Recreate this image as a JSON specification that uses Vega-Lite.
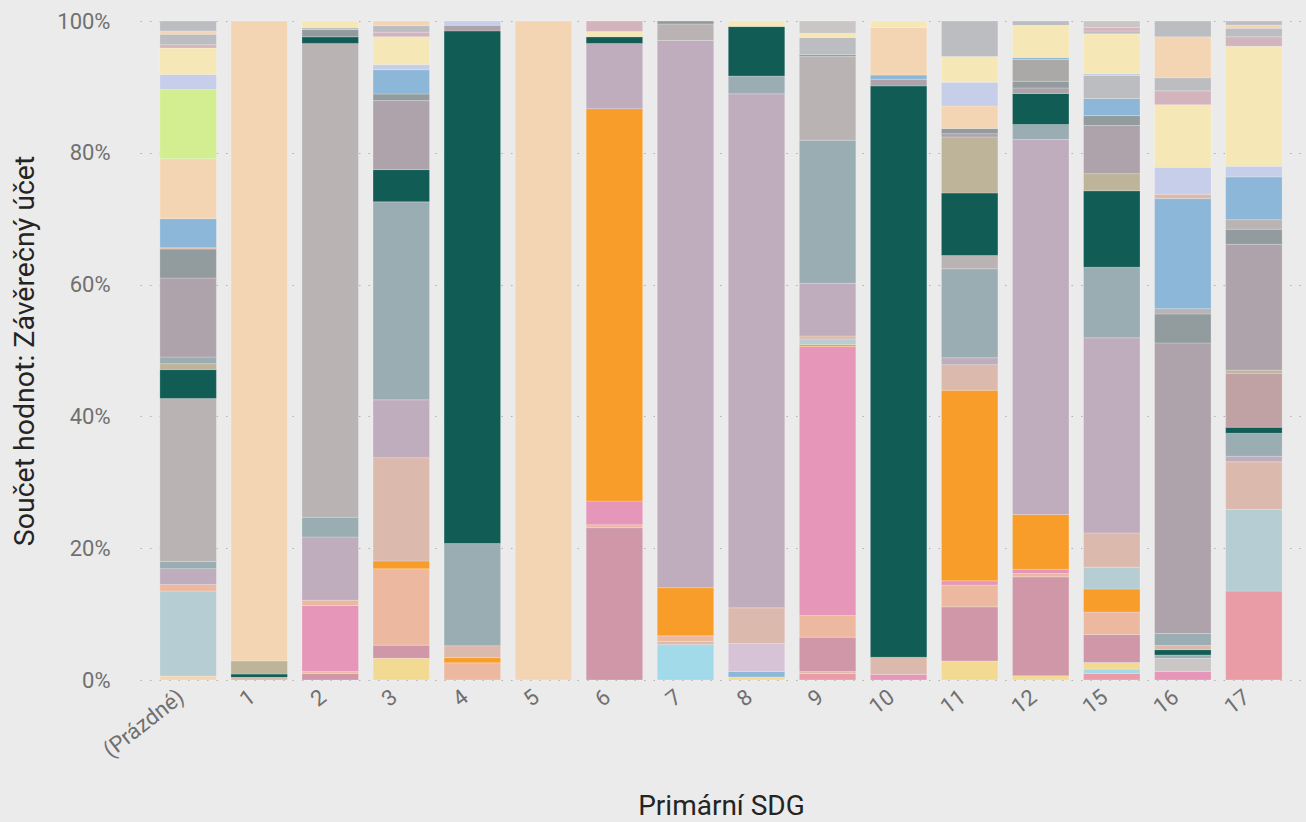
{
  "$schema": "https://vega.github.io/schema/vega-lite/v6.json",
  "autosize": "none",
  "width": 1162,
  "height": 659,
  "padding": {"left": 140, "top": 21, "right": 4, "bottom": 142},
  "background": "#EBEBEB",
  "config": {
    "view": {"stroke": null},
    "font": "Roboto",
    "axis": {"labelFont": "Roboto", "titleFont": "Roboto"}
  },
  "data": {
    "values": [
      {"sdg":"(Prázdné)","k":1,"s":"K","v":0.6},
      {"sdg":"(Prázdné)","k":2,"s":"A","v":12.9},
      {"sdg":"(Prázdné)","k":3,"s":"B","v":1.0},
      {"sdg":"(Prázdné)","k":4,"s":"H","v":2.4},
      {"sdg":"(Prázdné)","k":5,"s":"G","v":1.1},
      {"sdg":"(Prázdné)","k":6,"s":"I","v":24.7},
      {"sdg":"(Prázdné)","k":7,"s":"F","v":4.4},
      {"sdg":"(Prázdné)","k":8,"s":"R","v":0.9},
      {"sdg":"(Prázdné)","k":9,"s":"G","v":1.0},
      {"sdg":"(Prázdné)","k":10,"s":"P","v":12.0},
      {"sdg":"(Prázdné)","k":11,"s":"O","v":4.4},
      {"sdg":"(Prázdné)","k":12,"s":"J","v":0.2},
      {"sdg":"(Prázdné)","k":13,"s":"N","v":4.4},
      {"sdg":"(Prázdné)","k":14,"s":"K","v":9.1},
      {"sdg":"(Prázdné)","k":15,"s":"Q","v":10.5},
      {"sdg":"(Prázdné)","k":16,"s":"M","v":2.3},
      {"sdg":"(Prázdné)","k":17,"s":"L","v":4.0},
      {"sdg":"(Prázdné)","k":18,"s":"Z","v":0.5},
      {"sdg":"(Prázdné)","k":19,"s":"X","v":1.6},
      {"sdg":"(Prázdné)","k":20,"s":"K","v":0.5},
      {"sdg":"(Prázdné)","k":21,"s":"X","v":1.5},

      {"sdg":"1","k":1,"s":"J","v":0.4},
      {"sdg":"1","k":2,"s":"F","v":0.5},
      {"sdg":"1","k":3,"s":"R","v":2.0},
      {"sdg":"1","k":4,"s":"K","v":97.1},

      {"sdg":"2","k":1,"s":"C","v":1.0},
      {"sdg":"2","k":2,"s":"B","v":0.3},
      {"sdg":"2","k":3,"s":"D","v":10.0},
      {"sdg":"2","k":4,"s":"B","v":0.8},
      {"sdg":"2","k":5,"s":"H","v":9.6},
      {"sdg":"2","k":6,"s":"G","v":3.0},
      {"sdg":"2","k":7,"s":"I","v":71.9},
      {"sdg":"2","k":8,"s":"F","v":1.0},
      {"sdg":"2","k":9,"s":"O","v":1.1},
      {"sdg":"2","k":10,"s":"X","v":0.3},
      {"sdg":"2","k":11,"s":"L","v":1.0},

      {"sdg":"3","k":1,"s":"S","v":3.3},
      {"sdg":"3","k":2,"s":"C","v":2.0},
      {"sdg":"3","k":3,"s":"B","v":11.6},
      {"sdg":"3","k":4,"s":"E","v":1.2},
      {"sdg":"3","k":5,"s":"J","v":15.7},
      {"sdg":"3","k":6,"s":"H","v":8.8},
      {"sdg":"3","k":7,"s":"G","v":30.1},
      {"sdg":"3","k":8,"s":"F","v":4.9},
      {"sdg":"3","k":9,"s":"P","v":10.5},
      {"sdg":"3","k":10,"s":"O","v":1.0},
      {"sdg":"3","k":11,"s":"N","v":3.7},
      {"sdg":"3","k":12,"s":"M","v":0.8},
      {"sdg":"3","k":13,"s":"L","v":4.2},
      {"sdg":"3","k":14,"s":"Z","v":0.7},
      {"sdg":"3","k":15,"s":"X","v":1.0},
      {"sdg":"3","k":16,"s":"K","v":0.7},

      {"sdg":"4","k":1,"s":"B","v":2.6},
      {"sdg":"4","k":2,"s":"E","v":0.8},
      {"sdg":"4","k":3,"s":"J","v":1.8},
      {"sdg":"4","k":4,"s":"G","v":15.5},
      {"sdg":"4","k":5,"s":"F","v":77.8},
      {"sdg":"4","k":6,"s":"P","v":0.85},
      {"sdg":"4","k":7,"s":"M","v":0.65},

      {"sdg":"5","k":1,"s":"K","v":100},

      {"sdg":"6","k":1,"s":"C","v":23.1},
      {"sdg":"6","k":2,"s":"B","v":0.45},
      {"sdg":"6","k":3,"s":"D","v":3.6},
      {"sdg":"6","k":4,"s":"E","v":59.5},
      {"sdg":"6","k":5,"s":"H","v":9.9},
      {"sdg":"6","k":6,"s":"F","v":1.0},
      {"sdg":"6","k":7,"s":"L","v":0.8},
      {"sdg":"6","k":8,"s":"Z","v":1.6},

      {"sdg":"7","k":1,"s":"T","v":5.4},
      {"sdg":"7","k":2,"s":"J","v":0.45},
      {"sdg":"7","k":3,"s":"B","v":0.85},
      {"sdg":"7","k":4,"s":"E","v":7.3},
      {"sdg":"7","k":5,"s":"H","v":83.0},
      {"sdg":"7","k":6,"s":"I","v":2.5},
      {"sdg":"7","k":7,"s":"O","v":0.45},

      {"sdg":"8","k":1,"s":"S","v":0.45},
      {"sdg":"8","k":2,"s":"N","v":0.85},
      {"sdg":"8","k":3,"s":"U","v":4.25},
      {"sdg":"8","k":4,"s":"J","v":5.4},
      {"sdg":"8","k":5,"s":"H","v":78.0},
      {"sdg":"8","k":6,"s":"G","v":2.7},
      {"sdg":"8","k":7,"s":"F","v":7.5},
      {"sdg":"8","k":8,"s":"L","v":0.85},

      {"sdg":"9","k":1,"s":"V","v":1.0},
      {"sdg":"9","k":2,"s":"J","v":0.3},
      {"sdg":"9","k":3,"s":"C","v":5.2},
      {"sdg":"9","k":4,"s":"B","v":3.3},
      {"sdg":"9","k":5,"s":"D","v":40.8},
      {"sdg":"9","k":6,"s":"E","v":0.3},
      {"sdg":"9","k":7,"s":"A","v":0.85},
      {"sdg":"9","k":8,"s":"J","v":0.45},
      {"sdg":"9","k":9,"s":"H","v":8.0},
      {"sdg":"9","k":10,"s":"G","v":21.7},
      {"sdg":"9","k":11,"s":"I","v":12.7},
      {"sdg":"9","k":12,"s":"O","v":0.3},
      {"sdg":"9","k":13,"s":"X","v":2.6},
      {"sdg":"9","k":14,"s":"L","v":0.65},
      {"sdg":"9","k":15,"s":"Y","v":1.85},

      {"sdg":"10","k":1,"s":"D","v":0.85},
      {"sdg":"10","k":2,"s":"J","v":2.6},
      {"sdg":"10","k":3,"s":"F","v":86.7},
      {"sdg":"10","k":4,"s":"P","v":1.0},
      {"sdg":"10","k":5,"s":"N","v":0.65},
      {"sdg":"10","k":6,"s":"K","v":7.2},
      {"sdg":"10","k":7,"s":"L","v":1.0},

      {"sdg":"11","k":1,"s":"S","v":2.9},
      {"sdg":"11","k":2,"s":"C","v":8.2},
      {"sdg":"11","k":3,"s":"B","v":3.3},
      {"sdg":"11","k":4,"s":"D","v":0.65},
      {"sdg":"11","k":5,"s":"E","v":28.9},
      {"sdg":"11","k":6,"s":"J","v":3.9},
      {"sdg":"11","k":7,"s":"H","v":1.05},
      {"sdg":"11","k":8,"s":"G","v":13.5},
      {"sdg":"11","k":9,"s":"I","v":2.0},
      {"sdg":"11","k":10,"s":"F","v":9.5},
      {"sdg":"11","k":11,"s":"R","v":8.5},
      {"sdg":"11","k":12,"s":"P","v":0.5},
      {"sdg":"11","k":13,"s":"O","v":0.8},
      {"sdg":"11","k":14,"s":"K","v":3.4},
      {"sdg":"11","k":15,"s":"M","v":3.6},
      {"sdg":"11","k":16,"s":"L","v":3.9},
      {"sdg":"11","k":17,"s":"X","v":5.4},

      {"sdg":"12","k":1,"s":"S","v":0.65},
      {"sdg":"12","k":2,"s":"C","v":15.0},
      {"sdg":"12","k":3,"s":"B","v":0.5},
      {"sdg":"12","k":4,"s":"D","v":0.65},
      {"sdg":"12","k":5,"s":"E","v":8.3},
      {"sdg":"12","k":6,"s":"H","v":56.9},
      {"sdg":"12","k":7,"s":"G","v":2.3},
      {"sdg":"12","k":8,"s":"F","v":4.7},
      {"sdg":"12","k":9,"s":"P","v":0.85},
      {"sdg":"12","k":10,"s":"O","v":1.0},
      {"sdg":"12","k":11,"s":"W2","v":3.3},
      {"sdg":"12","k":12,"s":"N","v":0.3},
      {"sdg":"12","k":13,"s":"L","v":4.9},
      {"sdg":"12","k":14,"s":"X","v":0.65},

      {"sdg":"15","k":1,"s":"V","v":1.0},
      {"sdg":"15","k":2,"s":"T","v":0.65},
      {"sdg":"15","k":3,"s":"S","v":1.0},
      {"sdg":"15","k":4,"s":"C","v":4.25},
      {"sdg":"15","k":5,"s":"B","v":3.4},
      {"sdg":"15","k":6,"s":"E","v":3.5},
      {"sdg":"15","k":7,"s":"A","v":3.3},
      {"sdg":"15","k":8,"s":"J","v":5.2},
      {"sdg":"15","k":9,"s":"H","v":29.6},
      {"sdg":"15","k":10,"s":"G","v":10.7},
      {"sdg":"15","k":11,"s":"F","v":11.6},
      {"sdg":"15","k":12,"s":"R","v":2.6},
      {"sdg":"15","k":13,"s":"P","v":7.3},
      {"sdg":"15","k":14,"s":"O","v":1.5},
      {"sdg":"15","k":15,"s":"N","v":2.6},
      {"sdg":"15","k":16,"s":"X","v":3.5},
      {"sdg":"15","k":17,"s":"M","v":0.3},
      {"sdg":"15","k":18,"s":"L","v":6.0},
      {"sdg":"15","k":19,"s":"X","v":0.45},
      {"sdg":"15","k":20,"s":"Z","v":0.5},
      {"sdg":"15","k":21,"s":"Y","v":1.0},

      {"sdg":"16","k":1,"s":"D","v":1.3},
      {"sdg":"16","k":2,"s":"Y","v":2.0},
      {"sdg":"16","k":3,"s":"G","v":0.5},
      {"sdg":"16","k":4,"s":"F","v":0.8},
      {"sdg":"16","k":5,"s":"J","v":0.65},
      {"sdg":"16","k":6,"s":"G","v":1.8},
      {"sdg":"16","k":7,"s":"P","v":44.1},
      {"sdg":"16","k":8,"s":"O","v":4.4},
      {"sdg":"16","k":9,"s":"I","v":0.8},
      {"sdg":"16","k":10,"s":"N","v":16.7},
      {"sdg":"16","k":11,"s":"J","v":0.65},
      {"sdg":"16","k":12,"s":"M","v":4.1},
      {"sdg":"16","k":13,"s":"L","v":9.5},
      {"sdg":"16","k":14,"s":"Z","v":2.1},
      {"sdg":"16","k":15,"s":"X","v":2.0},
      {"sdg":"16","k":16,"s":"K","v":6.2},
      {"sdg":"16","k":17,"s":"X","v":2.4},

      {"sdg":"17","k":1,"s":"V","v":13.5},
      {"sdg":"17","k":2,"s":"A","v":12.4},
      {"sdg":"17","k":3,"s":"J","v":7.2},
      {"sdg":"17","k":4,"s":"H","v":0.85},
      {"sdg":"17","k":5,"s":"G","v":3.5},
      {"sdg":"17","k":6,"s":"F","v":0.9},
      {"sdg":"17","k":7,"s":"W","v":8.2},
      {"sdg":"17","k":8,"s":"R","v":0.45},
      {"sdg":"17","k":9,"s":"P","v":19.1},
      {"sdg":"17","k":10,"s":"O","v":2.3},
      {"sdg":"17","k":11,"s":"I","v":1.45},
      {"sdg":"17","k":12,"s":"N","v":6.5},
      {"sdg":"17","k":13,"s":"M","v":1.6},
      {"sdg":"17","k":14,"s":"L","v":18.2},
      {"sdg":"17","k":15,"s":"Z","v":1.45},
      {"sdg":"17","k":16,"s":"X","v":1.3},
      {"sdg":"17","k":17,"s":"K","v":0.5},
      {"sdg":"17","k":18,"s":"X","v":0.6}
    ]
  },
  "mark": {"type": "bar", "stroke": "#ffffff", "strokeWidth": 0.6, "strokeOpacity": 0.35},
  "encoding": {
    "x": {
      "field": "sdg",
      "type": "nominal",
      "scale": {
        "domain": ["(Prázdné)","1","2","3","4","5","6","7","8","9","10","11","12","15","16","17"],
        "paddingInner": 0.205,
        "paddingOuter": 0.28
      },
      "axis": {
        "title": "Primární SDG",
        "titleFontSize": 28,
        "titleFontWeight": "normal",
        "titleColor": "#252423",
        "titlePadding": 31,
        "labelAngle": -38,
        "labelAlign": "right",
        "labelBaseline": "top",
        "labelFontSize": 22,
        "labelColor": "#707070",
        "labelPadding": 6,
        "labelOffset": -13,
        "ticks": false,
        "domain": false
      }
    },
    "y": {
      "field": "v",
      "type": "quantitative",
      "stack": "normalize",
      "scale": {"domain": [0, 1], "nice": false},
      "axis": {
        "title": "Součet hodnot: Závěrečný účet",
        "titleFontSize": 28.5,
        "titleFontWeight": "normal",
        "titleColor": "#252423",
        "titlePadding": 17,
        "values": [0, 0.2, 0.4, 0.6, 0.8, 1],
        "format": ".0%",
        "labelFontSize": 22,
        "labelColor": "#707070",
        "labelPadding": 30,
        "ticks": false,
        "domain": false,
        "grid": true,
        "gridColor": "#B0B0B0",
        "gridDash": [1.5, 8],
        "gridWidth": 1.2
      }
    },
    "color": {
      "field": "s",
      "type": "nominal",
      "legend": null,
      "scale": {
        "domain": ["A","B","C","D","E","F","G","H","I","J","K","L","M","N","O","P","Q","R","S","T","U","V","W","X","Y","Z","W2"],
        "range": ["#B7CDD4","#EDB8A0","#CF97A8","#E696B8","#F89D2A","#115C55","#9AADB2","#BFADBE","#B9B3B3","#DCB9AD","#F3D5B3","#F5E8B6","#C6CEEA","#8DB7D8","#929C9E","#AFA3AB","#D2EE91","#BEB49A","#F3DA93","#A3DAEA","#D6C3D6","#E99CA6","#C0A2A4","#BCBDC1","#CBC6C6","#D4B4BC","#ABA8A8"]
      }
    },
    "order": {"field": "k", "type": "quantitative"}
  }
}
